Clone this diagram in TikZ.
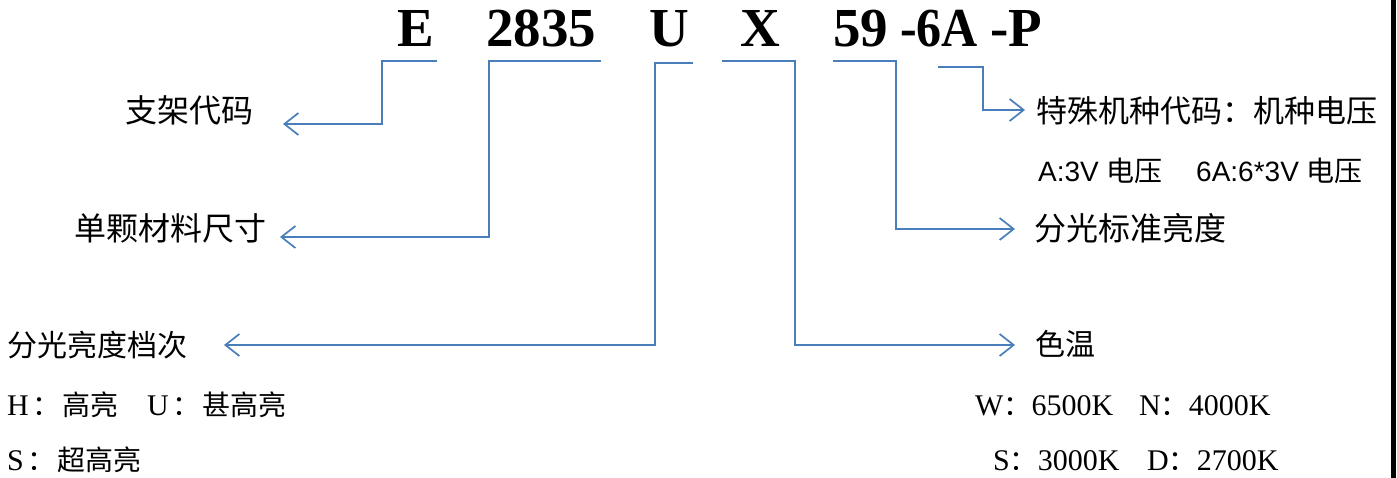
\documentclass[tikz,border=0pt]{standalone}
\usepackage{graphicx}
\usepackage{fontspec}
\setmainfont{Liberation Serif}
\newfontfamily\cjk{Noto Sans CJK SC}
\newfontfamily\arialf{Liberation Sans}
\usetikzlibrary{arrows.meta}
\definecolor{lineblue}{RGB}{74,126,187}
\newcommand{\zsm}[1]{{\cjk\fontsize{28}{32}\selectfont #1}}
\newcommand{\zcol}{\kern4pt\zsm{：}\kern2pt}
\begin{document}
\begin{tikzpicture}[x=1pt,y=-1pt,
  conn/.style={draw=lineblue, line width=1.7pt, line join=miter, -{Straight Barb[length=14pt,width=22pt]}},
  ttl/.style={font=\fontsize{55}{60}\selectfont\bfseries, inner sep=0pt, anchor=base west},
  lbl/.style={font=\cjk\fontsize{32}{36}\selectfont, inner sep=0pt, anchor=base west},
  lbls/.style={lbl, font=\cjk\fontsize{30}{34}\selectfont},
  sub/.style={font=\fontsize{30}{34}\selectfont, inner sep=0pt, anchor=base west},
  subsans/.style={font=\arialf\fontsize{28}{32}\selectfont, inner sep=0pt, anchor=base west}]
\useasboundingbox (0,0) rectangle (1397,478);
\fill[white] (0,0) rectangle (1397,478);
\fill[black] (1391,0) rectangle (1396,478);
% title
\node[ttl] (tE) at (397,47) {E};
\node[ttl] (t2835) at (486,47) {2835};
\node[ttl] (tU) at (649,47) {U};
\node[ttl] (tX) at (740,47) {X};
\node[ttl] (t59) at (833,47) {59};
\node[ttl] (t6A) at (900,47) {\scalebox{0.91}[1]{-6A}};
\node[ttl] (tP) at (990,47) {-P};
% labels
\node[lbl] (zj) at (125,123) {支架代码};
\node[lbl] (dk) at (74,241) {单颗材料尺寸};
\node[lbls] (fg) at (7,356) {分光亮度档次};
\node[lbl, font=\cjk\fontsize{31}{36}\selectfont] (ts) at (1036,123) {特殊机种代码：机种电压};
\node[lbl] (bz) at (1034,241) {分光标准亮度};
\node[lbls] (sw) at (1035,355) {色温};
% sub texts
\node[sub] (h1) at (7,415) {H\zcol\zsm{高亮}};
\node[sub] (u1) at (147,415) {U\zcol\zsm{甚高亮}};
\node[sub] (s1) at (7,470) {S\zcol\zsm{超高亮}};
\node[sub] (w1) at (975,415) {W\zsm{：}6500K};
\node[sub] (n1) at (1139,415) {N\zsm{：}4000K};
\node[sub] (s2) at (993,470) {S\zsm{：}3000K};
\node[sub] (d1) at (1147,470) {D\zsm{：}2700K};
\node[subsans] (a1) at (1038,182) {A:3V {\cjk 电压}};
\node[subsans] (a2) at (1196,182) {6A:6*3V {\cjk 电压}};
% connector ends
\coordinate (eS) at (437,61);   \coordinate (eT) at (283,124);
\coordinate (cS) at (601,61);   \coordinate (cT) at (280,237);
\coordinate (uS) at (693,63);   \coordinate (uT) at (224,345);
\coordinate (xS) at (722,61);   \coordinate (xT) at (1015,345);
\coordinate (fS) at (833,61);   \coordinate (fT) at (1015,229);
\coordinate (aS) at (938,67);   \coordinate (aT) at (1025,110);
\draw[conn] (eS) -- (382,61) |- (eT);
\draw[conn] (cS) -- (489,61) |- (cT);
\draw[conn] (uS) -- (655,63) |- (uT);
\draw[conn] (xS) -- (795,61) |- (xT);
\draw[conn] (fS) -- (896,61) |- (fT);
\draw[conn] (aS) -- (983,67) |- (aT);
\end{tikzpicture}
\end{document}
